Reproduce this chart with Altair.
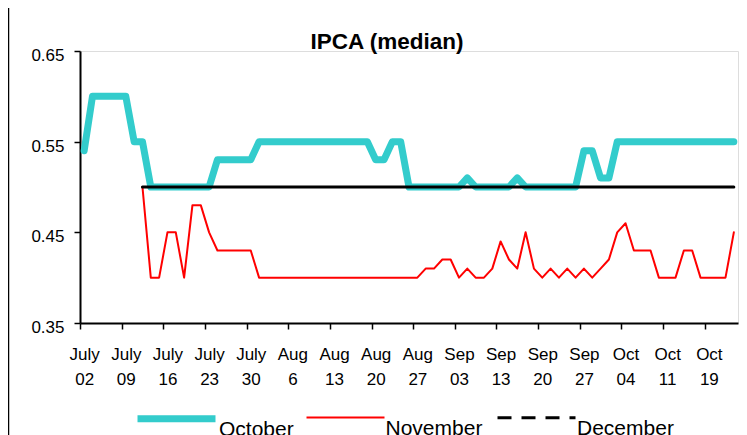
import altair as alt
import pandas as pd

# ---- data ----
series_names = ["October", "November", "December"]
tick_labels = [["July", "02"], ["July", "09"], ["July", "16"], ["July", "23"],
               ["July", "30"], ["Aug", "6"], ["Aug", "13"], ["Aug", "20"],
               ["Aug", "27"], ["Sep", "03"], ["Sep", "13"], ["Sep", "20"],
               ["Sep", "27"], ["Oct", "04"], ["Oct", "11"], ["Oct", "19"]]
title_text = "IPCA (median)"

october = ([0.54] + [0.60] * 5 + [0.55] * 2 + [0.50] * 8 + [0.53] * 5 +
           [0.55] * 14 + [0.53] * 2 + [0.55] * 2 + [0.50] * 7 + [0.51] +
           [0.50] * 5 + [0.51] + [0.50] * 7 + [0.54] * 2 + [0.51] * 2 +
           [0.55] * 15)

november = ([None] * 7 +
            [0.50, 0.40, 0.40, 0.45, 0.45, 0.40, 0.48, 0.48, 0.45,
             0.43, 0.43, 0.43, 0.43, 0.43] +
            [0.40] * 20 +
            [0.41, 0.41, 0.42, 0.42, 0.40, 0.41, 0.40, 0.40, 0.41, 0.44,
             0.42, 0.41, 0.45, 0.41, 0.40, 0.41, 0.40, 0.41, 0.40, 0.41,
             0.40, 0.41, 0.42, 0.45, 0.46, 0.43, 0.43, 0.43, 0.40, 0.40,
             0.40, 0.43, 0.43, 0.40, 0.40, 0.40, 0.40, 0.45])

december = [None] * 7 + [0.50] * 72

n = len(october)
rows = []
for name, vals in zip(series_names, [october, november, december]):
    for i, v in enumerate(vals):
        if v is not None:
            rows.append({"idx": i, "value": v, "series": name})
df = pd.DataFrame(rows)

FONT = "Liberation Sans"
W, H = 658, 272
cat_w = W / n

label_expr = "[" + ",".join('["%s","%s"]' % (a, b) for a, b in tick_labels) + "][round(datum.value/5)]"

x_enc = alt.X("idx:Q",
              scale=alt.Scale(domain=[-0.5, n - 0.5], nice=False, zero=False),
              axis=alt.Axis(values=list(range(0, 5 * len(tick_labels), 5)),
                            labelExpr=label_expr, tickOffset=-cat_w / 2,
                            labelOffset=cat_w / 2, title=None, grid=False,
                            tickSize=6, labelPadding=17, labelLineHeight=25,
                            labelFontSize=17, labelFont=FONT, labelColor="black",
                            domainColor="black", domainWidth=2,
                            tickColor="black", tickWidth=1.5,
                            labelFlush=False, labelOverlap=False))
y_enc = alt.Y("value:Q",
              scale=alt.Scale(domain=[0.35, 0.65], nice=False, zero=False),
              axis=alt.Axis(values=[0.35, 0.45, 0.55, 0.65], format=".2f",
                            title=None, grid=False, tickSize=6, labelPadding=10,
                            labelFontSize=17, labelFont=FONT, labelColor="black",
                            labelBaseline="top", labelOffset=-3.5,
                            domainColor="black", domainWidth=2,
                            tickColor="black", tickWidth=1.5))

color_scale = alt.Scale(domain=series_names, range=["#33CCCC", "#FF0000", "#000000"])
width_scale = alt.Scale(type="ordinal", domain=series_names, range=[7, 2, 3])
dash_scale = alt.Scale(domain=series_names, range=[[1, 0], [1, 0], [14, 10]])

legend = alt.Legend(title=None, orient="none", direction="horizontal",
                    legendX=54, legendY=325, symbolType="stroke",
                    symbolSize=6084, labelFontSize=21, labelFont=FONT,
                    labelColor="black", labelOffset=0, columnPadding=8.5,
                    padding=0, labelBaseline="top")

lines = alt.Chart(df).mark_line(strokeJoin="round", strokeCap="round").encode(
    x=x_enc, y=y_enc,
    color=alt.Color("series:N", scale=color_scale, sort=series_names, legend=legend),
    strokeWidth=alt.StrokeWidth("series:N", scale=width_scale, sort=series_names, legend=legend),
    order=alt.Order("idx:Q"),
)

legend_only = alt.Chart(df).transform_filter("false").mark_line().encode(
    x=x_enc, y=y_enc,
    color=alt.Color("series:N", scale=color_scale, sort=series_names, legend=legend),
    strokeWidth=alt.StrokeWidth("series:N", scale=width_scale, sort=series_names, legend=legend),
    strokeDash=alt.StrokeDash("series:N", scale=dash_scale, sort=series_names, legend=legend),
)

one = pd.DataFrame({"a": [0]})
border = alt.Chart(one).mark_rule(color="black", strokeWidth=1.5).encode(
    x=alt.value(-71.5), y=alt.value(-43), y2=alt.value(400))

title = alt.Chart(one).mark_text(
    text=title_text, font=FONT, fontSize=22.5, fontWeight="bold", color="black",
    align="center", baseline="alphabetic").encode(
    x=alt.value(W / 2 - 22), y=alt.value(-2.5))

chart = alt.layer(lines, legend_only, border, title).properties(
    width=W, height=H,
    autosize=alt.AutoSizeParams(type="none"),
    padding={"left": 72, "top": 43, "right": 1, "bottom": 112},
).configure_view(stroke="#808080", strokeWidth=2).configure(background="white")

chart.save("out.html", embed_options={"renderer": "svg", "actions": False})
